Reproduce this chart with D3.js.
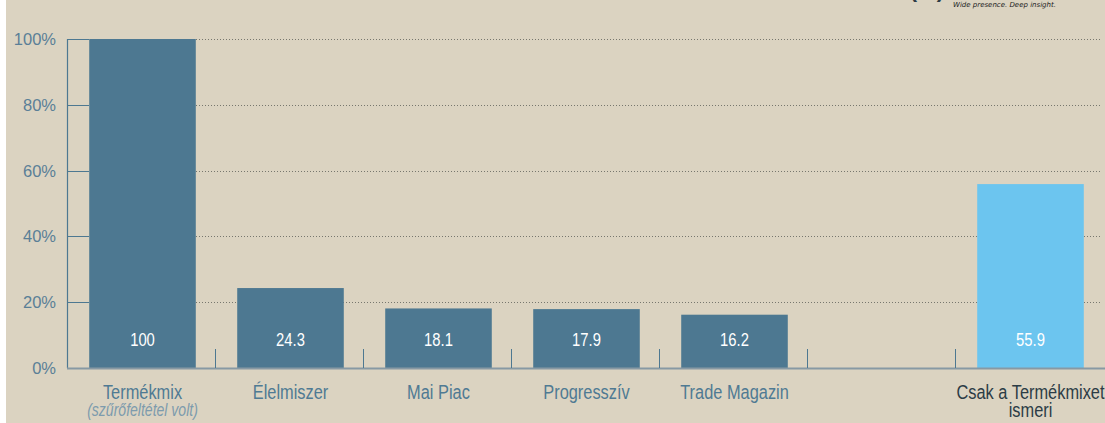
<!DOCTYPE html>
<html>
<head>
<meta charset="utf-8">
<script src="https://cdn.jsdelivr.net/npm/d3@7"></script>
<style>
  html, body { margin: 0; padding: 0; background: #ffffff; }
  svg { display: block; }
</style>
</head>
<body>
<div id="chart"></div>
<script>
const categories = ["Termékmix", "Élelmiszer", "Mai Piac", "Progresszív", "Trade Magazin", "", "Csak a Termékmixet ismeri"];
const values = [100, 24.3, 18.1, 17.9, 16.2, null, 55.9];
const highlight = [false, false, false, false, false, false, true];
const yTicks = [0, 20, 40, 60, 80, 100];

const width = 1105;
const height = 423;
const margin = { top: 39, right: 2, bottom: 55, left: 67 };
const bg = "#dbd3c1";
const barColor = "#4d7891";
const lightColor = "#6cc5ef";
const axisColor = "#4d7891";
const font = "'Liberation Sans', Arial, sans-serif";
const squeeze = 0.78; // fake a condensed face

const svg = d3.select("#chart").append("svg")
  .attr("width", width)
  .attr("height", height);

// white strip at the left edge, then the beige panel
svg.append("rect").attr("x", 0).attr("y", 0).attr("width", width).attr("height", height).attr("fill", "#ffffff");
svg.append("rect").attr("x", 6).attr("y", 0).attr("width", width - 6).attr("height", height).attr("fill", bg);

const x = d3.scaleBand()
  .domain(d3.range(categories.length))
  .range([margin.left, width - margin.right])
  .padding(0);

const y = d3.scaleLinear()
  .domain([0, 100])
  .range([height - margin.bottom, margin.top]);

const bw = x.bandwidth();
const barW = bw * 0.72;
const barX = i => x(i) + (bw - barW) / 2 + 1.5;

function narrowText(parent, cx, cy, size, fill, str, italic) {
  const g = parent.append("g").attr("transform", `translate(${cx},${cy}) scale(${squeeze},1)`);
  const t = g.append("text")
    .attr("x", 0).attr("y", 0)
    .attr("text-anchor", "middle")
    .attr("font-family", font)
    .attr("font-size", size)
    .attr("fill", fill)
    .text(str);
  if (italic) t.attr("font-style", "italic");
  return t;
}

// dotted gridlines
svg.append("g").selectAll("line")
  .data(yTicks.filter(d => d > 0))
  .join("line")
  .attr("x1", margin.left)
  .attr("x2", 1100)
  .attr("y1", d => Math.round(y(d)) + 0.5)
  .attr("y2", d => Math.round(y(d)) + 0.5)
  .attr("stroke", "#77776e")
  .attr("stroke-width", 1)
  .attr("stroke-dasharray", "1,2");

// short solid ticks next to the axis
svg.append("g").selectAll("line")
  .data(yTicks.filter(d => d > 0))
  .join("line")
  .attr("x1", margin.left)
  .attr("x2", margin.left + 22)
  .attr("y1", d => Math.round(y(d)) + 0.5)
  .attr("y2", d => Math.round(y(d)) + 0.5)
  .attr("stroke", axisColor)
  .attr("stroke-width", 1);

// y axis line
svg.append("line")
  .attr("x1", margin.left + 0.5).attr("x2", margin.left + 0.5)
  .attr("y1", y(100)).attr("y2", y(0))
  .attr("stroke", axisColor).attr("stroke-width", 1.2);

// y tick labels
svg.append("g").selectAll("text")
  .data(yTicks)
  .join("text")
  .attr("x", 56)
  .attr("y", d => y(d) + 6)
  .attr("text-anchor", "end")
  .attr("font-family", font)
  .attr("font-size", 16.5)
  .attr("fill", "#5a7f97")
  .text(d => d + "%");

// bars
const idx = d3.range(categories.length).filter(i => values[i] != null);
svg.append("g").selectAll("rect")
  .data(idx)
  .join("rect")
  .attr("x", i => barX(i))
  .attr("y", i => y(values[i]))
  .attr("width", barW)
  .attr("height", i => y(0) - y(values[i]))
  .attr("fill", i => highlight[i] ? lightColor : barColor);

// baseline
svg.append("line")
  .attr("x1", margin.left).attr("x2", width)
  .attr("y1", y(0) + 0.5).attr("y2", y(0) + 0.5)
  .attr("stroke", "#8799a4").attr("stroke-width", 2);

// category separator ticks
svg.append("g").selectAll("line")
  .data(d3.range(1, categories.length))
  .join("line")
  .attr("x1", i => Math.round(x(i)) + 0.5)
  .attr("x2", i => Math.round(x(i)) + 0.5)
  .attr("y1", y(0) - 19)
  .attr("y2", y(0))
  .attr("stroke", axisColor)
  .attr("stroke-width", 1);

// value labels
const valG = svg.append("g");
idx.forEach(i => {
  narrowText(valG, barX(i) + barW / 2, 346, 19, "#ffffff", String(values[i]));
});

// category labels
const labelG = svg.append("g");
categories.forEach((c, i) => {
  if (!c) return;
  const cx = barX(i) + barW / 2;
  if (highlight[i]) {
    const t = narrowText(labelG, cx, 399, 21, "#2c3c46", "");
    t.append("tspan").attr("x", 0).text("Csak a Termékmixet");
    t.append("tspan").attr("x", 0).attr("dy", 18).text("ismeri");
  } else {
    narrowText(labelG, cx, 399, 21, "#4f7a93", c);
  }
});
narrowText(labelG, barX(0) + barW / 2, 416, 18, "#7d9bad", "(szűrőfeltétel volt)", true);

// title, mostly cut off at the top edge
svg.append("text")
  .attr("x", 908).attr("y", -3)
  .attr("text-anchor", "end")
  .attr("font-family", font)
  .attr("font-weight", "bold")
  .attr("font-size", 22)
  .attr("fill", "#8a8a86")
  .text("A TERMÉKMIXET ISMERŐK KÖZÜL EGYÉB LAPOKAT IS ISMERŐK ARÁNYA");
svg.append("text")
  .attr("x", 944).attr("y", -3)
  .attr("text-anchor", "end")
  .attr("font-family", font)
  .attr("font-weight", "bold")
  .attr("font-size", 22)
  .attr("fill", "#2c3c46")
  .text("(%)");
svg.append("text")
  .attr("x", 953).attr("y", 7)
  .attr("font-family", "'DejaVu Sans', sans-serif")
  .attr("font-style", "italic")
  .attr("font-size", 7)
  .attr("fill", "#222222")
  .text("Wide presence. Deep insight.");
</script>
</body>
</html>
